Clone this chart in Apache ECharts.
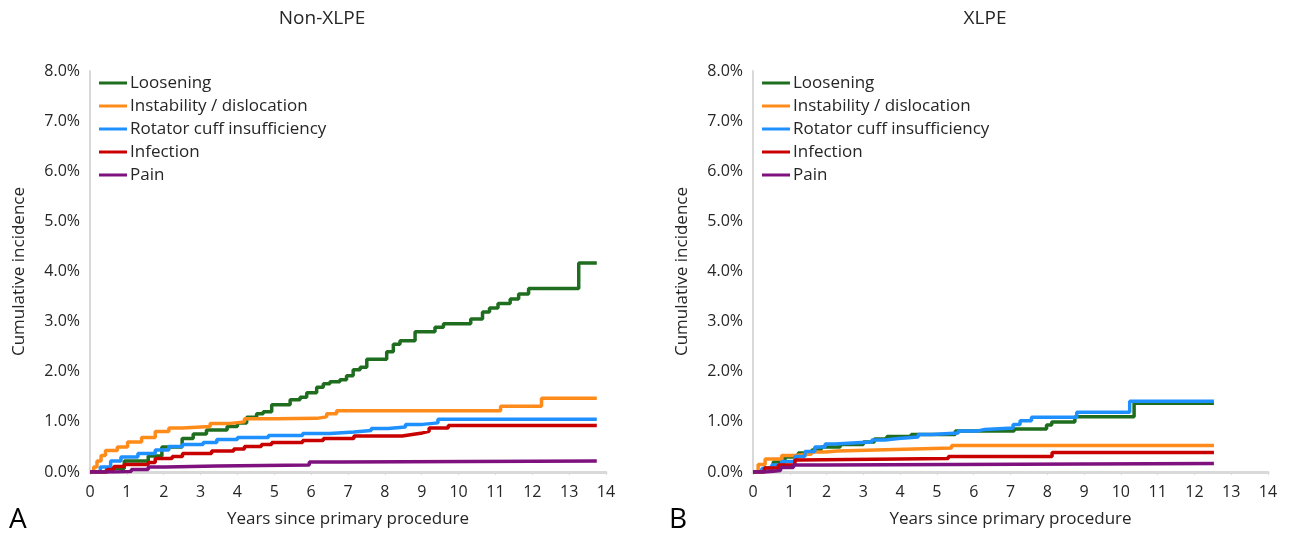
<!DOCTYPE html>
<html>
<head>
<meta charset="utf-8">
<title>Cumulative incidence by revision reason</title>
<script src="https://cdn.jsdelivr.net/npm/echarts@6/dist/echarts.min.js"></script>
<style>
  html, body { margin: 0; padding: 0; background: #fff; }
  #chart { width: 1293px; height: 536px; }
</style>
</head>
<body>
<div id="chart"></div>
<script>
// series names, shared by both panels
const seriesNames = ['Loosening', 'Instability / dislocation', 'Rotator cuff insufficiency', 'Infection', 'Pain']
const seriesColors = ['#1f6e1f', '#ff8c1a', '#1e90ff', '#c80000', '#7f117f']

const yearTicks = [0, 1, 2, 3, 4, 5, 6, 7, 8, 9, 10, 11, 12, 13, 14]
const pctTicks = [0, 1, 2, 3, 4, 5, 6, 7, 8]

// panel A: Non-XLPE  ([years, cumulative incidence %])
const nonXlpeLoosening = [[0, 0], [0.45, 0.07], [0.93, 0.22], [1.58, 0.32], [1.95, 0.5], [2.5, 0.67], [2.8, 0.76], [3.16, 0.84], [3.72, 0.91], [4.0, 0.98], [4.25, 1.09], [4.52, 1.16], [4.7, 1.2], [4.93, 1.34], [5.43, 1.44], [5.7, 1.49], [5.88, 1.58], [6.15, 1.69], [6.33, 1.76], [6.51, 1.8], [6.78, 1.84], [6.96, 1.92], [7.14, 2.04], [7.33, 2.09], [7.51, 2.25], [8.05, 2.4], [8.23, 2.55], [8.41, 2.62], [8.82, 2.8], [9.36, 2.89], [9.59, 2.96], [10.33, 3.05], [10.65, 3.19], [10.84, 3.27], [11.07, 3.36], [11.4, 3.45], [11.63, 3.55], [11.9, 3.66], [13.26, 4.17], [13.75, 4.17]]
const nonXlpeInstability = [[0, 0], [0.1, 0.1], [0.19, 0.22], [0.3, 0.33], [0.42, 0.43], [0.74, 0.5], [1.02, 0.6], [1.4, 0.69], [1.77, 0.81], [2.14, 0.88], [2.51, 0.91], [3.26, 0.97], [3.81, 1.0], [4.19, 1.06], [5.06, 1.07], [6.15, 1.1], [6.42, 1.16], [6.69, 1.22], [11.14, 1.31], [12.25, 1.47], [13.75, 1.47]]
const nonXlpeRotatorCuff = [[0, 0], [0.28, 0.1], [0.56, 0.22], [0.84, 0.3], [1.3, 0.37], [1.77, 0.44], [2.14, 0.51], [2.51, 0.55], [3.07, 0.59], [3.44, 0.65], [4.0, 0.69], [4.84, 0.73], [5.77, 0.77], [6.51, 0.8], [7.16, 0.83], [7.63, 0.87], [8.09, 0.9], [8.56, 0.95], [9.02, 0.98], [9.44, 1.05], [13.75, 1.05]]
const nonXlpeInfection = [[0, 0], [0.47, 0.05], [0.65, 0.11], [0.93, 0.15], [1.58, 0.19], [1.77, 0.27], [2.23, 0.31], [2.51, 0.37], [3.3, 0.42], [3.9, 0.46], [4.19, 0.51], [4.65, 0.55], [4.93, 0.59], [5.77, 0.63], [6.33, 0.67], [7.16, 0.72], [8.47, 0.75], [8.74, 0.78], [9.02, 0.81], [9.2, 0.88], [9.72, 0.93], [13.75, 0.93]]
const nonXlpePain = [[0, 0], [0.65, 0.01], [1.12, 0.05], [1.58, 0.1], [2.05, 0.12], [3.44, 0.14], [5.95, 0.2], [6.79, 0.22], [13.75, 0.22]]

// panel B: XLPE
const xlpeLoosening = [[0, 0], [0.3, 0.08], [0.55, 0.2], [0.87, 0.3], [1.23, 0.38], [1.6, 0.44], [1.85, 0.5], [2.37, 0.55], [3.0, 0.6], [3.3, 0.66], [3.64, 0.71], [4.3, 0.75], [5.5, 0.82], [7.1, 0.86], [7.98, 0.94], [8.12, 1.0], [8.75, 1.1], [10.36, 1.37], [12.53, 1.37]]
const xlpeInstability = [[0, 0], [0.14, 0.15], [0.33, 0.26], [0.78, 0.33], [1.14, 0.36], [1.59, 0.4], [1.96, 0.42], [2.3, 0.45], [3.86, 0.48], [5.4, 0.53], [12.53, 0.53]]
const xlpeRotatorCuff = [[0, 0], [0.24, 0.07], [0.51, 0.14], [0.78, 0.21], [1.14, 0.31], [1.41, 0.41], [1.68, 0.5], [1.96, 0.56], [2.23, 0.59], [2.95, 0.6], [3.23, 0.64], [3.59, 0.67], [3.95, 0.7], [4.49, 0.75], [4.86, 0.78], [5.58, 0.82], [6.12, 0.85], [6.3, 0.88], [7.07, 0.95], [7.26, 1.02], [7.57, 1.09], [8.8, 1.19], [10.24, 1.41], [12.53, 1.41]]
const xlpeInfection = [[0, 0], [0.31, 0.08], [0.69, 0.14], [1.14, 0.24], [1.25, 0.27], [5.31, 0.31], [8.13, 0.39], [12.53, 0.39]]
const xlpePain = [[0, 0], [0.35, 0.03], [0.75, 0.09], [1.1, 0.14], [1.9, 0.17], [12.53, 0.17]]

const panelSeries = [
  [nonXlpeLoosening, nonXlpeInstability, nonXlpeRotatorCuff, nonXlpeInfection, nonXlpePain],
  [xlpeLoosening, xlpeInstability, xlpeRotatorCuff, xlpeInfection, xlpePain]
]

const FONT = "'Open Sans', 'Noto Sans', sans-serif"
const TEXT_COLOR = '#262626'

const chart = echarts.init(document.getElementById('chart'))

const grids = [
  { left: 90, top: 71, width: 516, height: 401 },
  { left: 753, top: 71, width: 515, height: 401 }
]

function makeXAxis(gridIndex) {
  return {
    type: 'value',
    gridIndex,
    min: yearTicks[0],
    max: yearTicks[yearTicks.length - 1],
    interval: 1,
    name: 'Years since primary procedure',
    nameLocation: 'middle',
    nameGap: 39,
    nameTextStyle: { color: TEXT_COLOR, fontSize: 17, fontFamily: FONT },
    axisLine: { show: true, lineStyle: { color: '#d9d9d9', width: 3 } },
    axisTick: { show: true, length: 3, lineStyle: { color: '#d9d9d9' } },
    axisLabel: { color: TEXT_COLOR, fontSize: 16, fontFamily: FONT, margin: 12 },
    splitLine: { show: false }
  }
}

function makeYAxis(gridIndex) {
  return {
    type: 'value',
    gridIndex,
    min: pctTicks[0],
    max: pctTicks[pctTicks.length - 1],
    interval: 1,
    name: 'Cumulative incidence',
    nameLocation: 'middle',
    nameGap: 62,
    nameTextStyle: { color: TEXT_COLOR, fontSize: 17, fontFamily: FONT },
    axisLine: { show: true, lineStyle: { color: '#d9d9d9', width: 2 } },
    axisTick: { show: false },
    axisLabel: {
      color: TEXT_COLOR,
      fontSize: 16,
      fontFamily: FONT,
      margin: 10,
      formatter: (v) => v.toFixed(1) + '%'
    },
    splitLine: { show: false }
  }
}

function makeLegend(left) {
  return {
    orient: 'vertical',
    left,
    top: 68,
    icon: 'rect',
    itemWidth: 28,
    itemHeight: 3,
    itemGap: 3,
    data: seriesNames,
    textStyle: { color: TEXT_COLOR, fontSize: 17, fontFamily: FONT, lineHeight: 20, padding: [0, 0, 0, -2] },
    selectedMode: false
  }
}

const series = []
panelSeries.forEach((list, p) => {
  list.forEach((data, i) => {
    series.push({
      name: seriesNames[i],
      type: 'line',
      xAxisIndex: p,
      yAxisIndex: p,
      step: 'end',
      symbol: 'none',
      data,
      color: seriesColors[i],
      lineStyle: { width: 3.5, color: seriesColors[i] },
      animation: false
    })
  })
})

const option = {
  backgroundColor: '#fff',
  grid: grids,
  xAxis: [makeXAxis(0), makeXAxis(1)],
  yAxis: [makeYAxis(0), makeYAxis(1)],
  legend: [makeLegend(94), makeLegend(757)],
  graphic: [
    { type: 'text', x: 322, y: 19, style: { text: 'Non-XLPE', fill: TEXT_COLOR, font: '19px ' + FONT, textAlign: 'center', textVerticalAlign: 'middle' } },
    { type: 'text', x: 985, y: 19, style: { text: 'XLPE', fill: TEXT_COLOR, font: '19px ' + FONT, textAlign: 'center', textVerticalAlign: 'middle' } },
    { type: 'text', x: 9, y: 520, style: { text: 'A', fill: '#000', font: '28px ' + FONT, textAlign: 'left', textVerticalAlign: 'middle' } },
    { type: 'text', x: 669, y: 520, style: { text: 'B', fill: '#000', font: '28px ' + FONT, textAlign: 'left', textVerticalAlign: 'middle' } }
  ],
  series
}

chart.setOption(option)
window.addEventListener('resize', () => chart.resize())
</script>
</body>
</html>
